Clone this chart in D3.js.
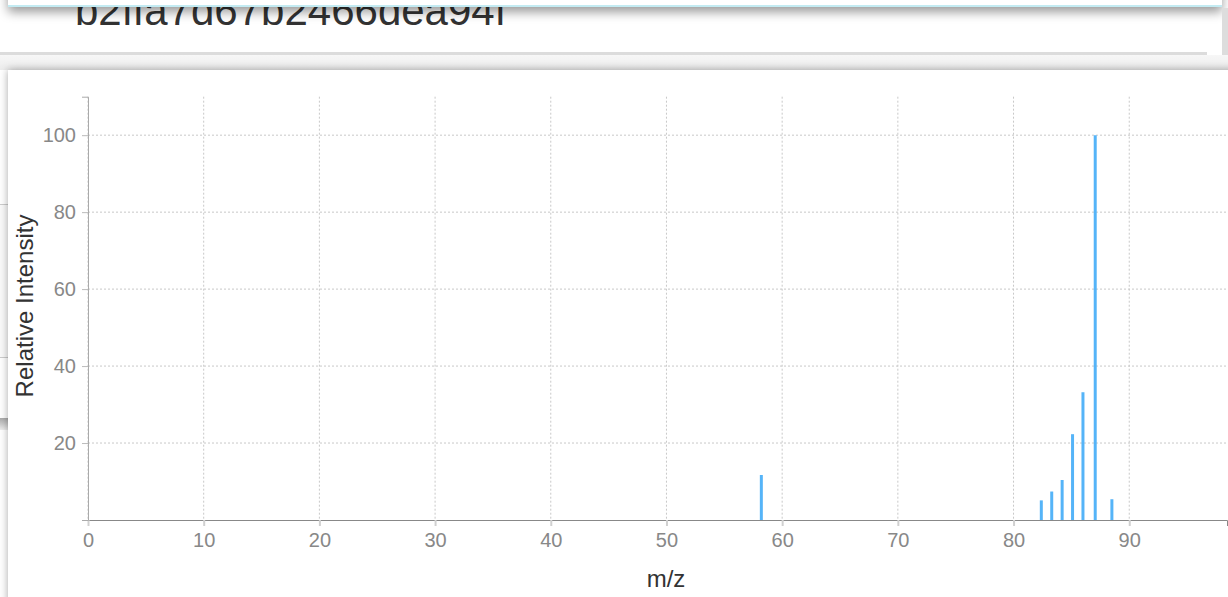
<!DOCTYPE html>
<html>
<head>
<meta charset="utf-8">
<script src="https://cdn.jsdelivr.net/npm/d3@7/dist/d3.min.js"></script>
<style>
  html, body { margin: 0; padding: 0; width: 1228px; height: 597px; overflow: hidden; background: #fff; }
  .abs { position: absolute; }
  #title { left: 75px; top: -10px; font-family: "Liberation Sans", Arial, sans-serif; font-size: 42px; color: #333; line-height: 1; }
  #chart { position: absolute; left: 0; top: 0; }
</style>
</head>
<body>
<div class="abs" id="title"></div>
<div class="abs" style="left:8px;top:-60px;width:1214px;height:65px;background:#fff;border-bottom:2px solid #c3ebf2;box-shadow:0 5px 10px rgba(0,0,0,0.4);"></div>
<div class="abs" style="left:1222px;top:8px;width:6px;height:62px;background:#ddd;"></div>
<div class="abs" style="left:0;top:52px;width:1207px;height:3px;background:#dcdcdc;"></div>
<div class="abs" style="left:0;top:55px;width:1228px;height:15px;background:linear-gradient(#f7f7f7,#ececec);"></div>
<div class="abs" style="left:-300px;top:204px;width:308px;height:152px;border-top:1px solid #ccc;border-bottom:1px solid #ccc;background:#fafafa;"></div>
<div class="abs" style="left:-300px;top:418px;width:308px;height:12px;background:linear-gradient(#aaa,#eee);"></div>
<div class="abs" style="left:8px;top:70px;width:1260px;height:560px;background:#fff;box-shadow:0 0 8px rgba(0,0,0,0.35);"></div>
<svg id="chart" width="1228" height="597"></svg>
<script>
const titleText = "b2ffa7d67b2466dea94f";
const mzValues = [58.2, 82.4, 83.3, 84.2, 85.1, 86.0, 87.06, 88.5];
const intensities = [11.7, 5.1, 7.4, 10.4, 22.3, 33.2, 100, 5.4];
const xTicks = [0, 10, 20, 30, 40, 50, 60, 70, 80, 90];
const yTicks = [20, 40, 60, 80, 100];
const xLabel = "m/z";
const yLabel = "Relative Intensity";
const xMax = 98.45;
const yMax = 110;

d3.select("#title").text(titleText);

const svg = d3.select("#chart");
const font = "'Liberation Sans', Arial, sans-serif";
const x = d3.scaleLinear().domain([0, xMax]).range([88, 1227]);
const y = d3.scaleLinear().domain([0, yMax]).range([520, 96.7]);

const grid = svg.append("g");
grid.selectAll("line.v").data(xTicks).join("line")
  .attr("x1", d => x(d)).attr("x2", d => x(d))
  .attr("y1", y(yMax)).attr("y2", y(0))
  .attr("stroke", "#c8c8c8").attr("stroke-dasharray", "2,2").attr("stroke-width", 1);
grid.selectAll("line.h").data(yTicks).join("line")
  .attr("x1", x(0)).attr("x2", 1228)
  .attr("y1", d => y(d)).attr("y2", d => y(d))
  .attr("stroke", "#c8c8c8").attr("stroke-dasharray", "2,2").attr("stroke-width", 1);

svg.append("g").selectAll("line").data(mzValues).join("line")
  .attr("x1", d => x(d)).attr("x2", d => x(d))
  .attr("y1", y(0)).attr("y2", (d, i) => y(intensities[i]))
  .attr("stroke", "#55b4f8").attr("stroke-width", 3);

const xAxis = svg.append("g").attr("transform", `translate(0,${y(0)})`)
  .call(d3.axisBottom(x).tickValues(xTicks).tickFormat(d3.format("d")).tickSize(6).tickSizeOuter(6).tickPadding(7));
xAxis.select(".domain").attr("stroke", "#888");
xAxis.selectAll(".tick line").attr("stroke", "#d0d0d0").attr("stroke-width", 2);
xAxis.selectAll(".tick text").attr("fill", "#888").style("font-family", font).style("font-size", "20px");

const yAxis = svg.append("g").attr("transform", `translate(${x(0)},0)`)
  .call(d3.axisLeft(y).tickValues(yTicks).tickFormat(d3.format("d")).tickSize(6).tickSizeOuter(6).tickPadding(6));
yAxis.select(".domain").attr("stroke", "#aaa");
yAxis.selectAll(".tick line").attr("stroke", "#bbb");
yAxis.selectAll(".tick text").attr("fill", "#888").style("font-family", font).style("font-size", "20px");

svg.append("text").attr("x", 666).attr("y", 587).attr("text-anchor", "middle")
  .attr("fill", "#333").style("font-family", font).style("font-size", "24px").text(xLabel);
svg.append("text").attr("transform", "translate(33,306) rotate(-90)").attr("text-anchor", "middle")
  .attr("fill", "#333").style("font-family", font).style("font-size", "24px").text(yLabel);
</script>
</body>
</html>
